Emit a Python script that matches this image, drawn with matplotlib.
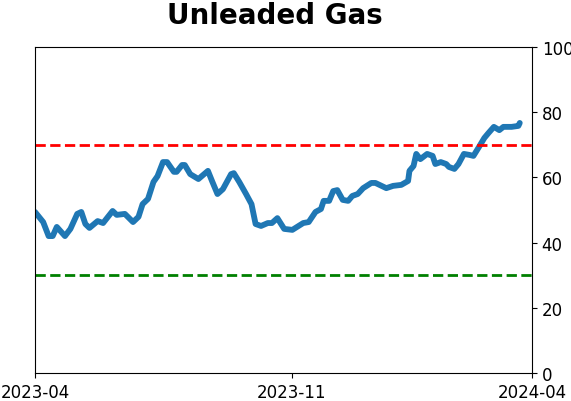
import matplotlib
matplotlib.use("Agg")
import matplotlib.pyplot as plt

# jours depuis le début de la période et valeur de l'indicateur
days = [0, 6, 10, 13, 16, 22, 26, 31, 34, 37, 40, 46, 50, 57, 60, 66, 72, 76, 79, 83,
        87, 90, 94, 97, 102, 104, 108, 110, 114, 120, 127, 130, 134, 138, 144, 146, 150,
        155, 159, 162, 166, 171, 174, 178, 183, 189, 197, 201, 206, 210, 212, 216, 219,
        222, 226, 230, 233, 237, 241, 247, 250, 258, 263, 269, 274, 275, 278, 280, 283,
        288, 292, 294, 298, 302, 304, 308, 311, 315, 319, 322, 326, 330, 333, 337, 341,
        344, 350, 355, 356]
values = [49.4, 46.3, 42.0, 42.0, 44.8, 42.0, 44.2, 48.8, 49.4, 45.7, 44.5, 46.6, 46.0,
          49.7, 48.5, 48.8, 46.3, 47.9, 51.8, 53.4, 58.6, 60.4, 64.7, 64.7, 61.7, 61.7,
          63.8, 63.8, 61.0, 59.5, 62.0, 58.9, 54.9, 56.4, 61.0, 61.3, 58.6, 54.9, 51.8,
          45.7, 45.1, 46.0, 46.0, 47.5, 44.2, 43.9, 46.0, 46.3, 49.4, 50.3, 52.8, 52.8,
          55.8, 56.1, 53.1, 52.8, 54.3, 54.9, 56.7, 58.3, 58.3, 56.7, 57.4, 57.7, 58.9,
          62.0, 63.5, 67.2, 65.6, 67.2, 66.6, 64.1, 64.7, 64.1, 63.2, 62.6, 64.1, 67.2,
          66.9, 66.6, 69.3, 72.1, 73.6, 75.5, 74.5, 75.5, 75.5, 75.8, 76.7]

tick_pos = [0, 188.7, 365]
tick_labels = ["2023-04", "2023-11", "2024-04"]
upper, lower = 70, 30

fig = plt.figure(figsize=(5.71, 4.02), dpi=100)
ax = fig.add_axes([0.0613, 0.0697, 0.8704, 0.8109])

ax.plot(days, values, color="#1f77b4", linewidth=4.2, solid_capstyle="round")
ax.axhline(upper, color="red", linestyle="--", linewidth=2)
ax.axhline(lower, color="green", linestyle="--", linewidth=2)

ax.set_xlim(0, 365)
ax.set_ylim(0, 100)
ax.set_xticks(tick_pos)
ax.set_xticklabels(tick_labels)
ax.tick_params(axis="x", labelsize=12)
ax.yaxis.tick_right()
ax.set_yticks(range(0, 101, 20))
ax.tick_params(axis="y", labelsize=12)

fig.text(0.481, 0.995, "Unleaded Gas", fontsize=20, fontweight="bold",
         ha="center", va="top")

fig.savefig("out.png", dpi=100)
